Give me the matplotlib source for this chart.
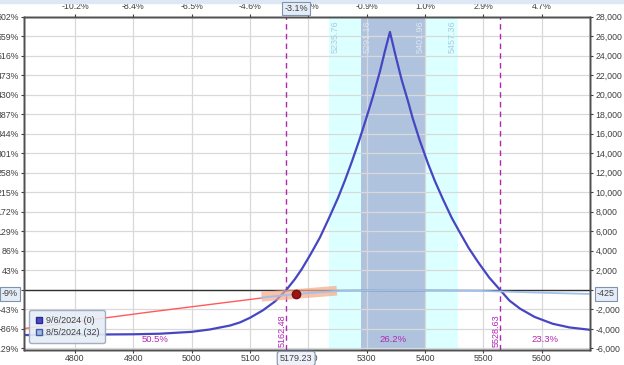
import matplotlib
matplotlib.use("Agg")
import matplotlib.pyplot as plt
import matplotlib.transforms as mtransforms
from matplotlib.lines import Line2D
from matplotlib.patches import Rectangle

plt.rcParams["font.family"] = ["Liberation Sans", "DejaVu Sans"]

# expiration curve 9/6/2024 (0)
exp_price = [4713, 4800, 4900, 4946, 5000, 5031, 5066, 5083, 5100, 5122, 5143, 5162.48,
             5177, 5189, 5204, 5220, 5235, 5251, 5263, 5275, 5287, 5300, 5311, 5323,
             5331, 5340, 5350, 5360, 5371, 5379, 5391, 5405, 5417, 5431, 5446, 5460,
             5475, 5491, 5510, 5528.63, 5545, 5563, 5588, 5619, 5648, 5683]
exp_pl = [-4640, -4600, -4560, -4500, -4310, -4070, -3660, -3340, -2870, -2110, -1190, 0,
          1090, 2140, 3650, 5370, 7290, 9430, 11240, 13190, 15260, 17700, 19850, 22420,
          24380, 26440, 23920, 21550, 19330, 17590, 15330, 12990, 11160, 9270, 7370, 5860,
          4290, 2850, 1270, 0, -1110, -1930, -2780, -3480, -3860, -4100]

# T+0 curve 8/5/2024 (32)
red_price = [4713, 4800, 4928, 5120]
red_pl = [-3970, -3290, -2280, -840]
t0_price = [5120, 5179.23, 5250, 5300, 5350, 5400, 5450, 5491, 5563, 5619, 5683]
t0_pl = [-800, -425, -120, -60, -30, -40, -80, -100, -230, -330, -425]

# delta band through current price
band_price = [5120, 5249]
band_pl = [-710, -90]
cur_price = 5179.23
cur_pl = -425

breakevens = [5162.48, 5528.63]
inner_band = [5291.16, 5401.96]
outer_band = [5235.76, 5457.36]
probs = ["50.5%", "26.2%", "23.3%"]

x_ticks = [4800, 4900, 5000, 5100, 5200, 5300, 5400, 5500, 5600]
top_labels = ["-10.2%", "-8.4%", "-6.5%", "-4.6%", "-2.7%", "-0.9%", "1.0%", "2.9%", "4.7%"]
y_ticks = list(range(-6000, 28001, 2000))
left_labels = ["-129%", "-86%", "-43%", "0%", "43%", "86%", "129%", "172%", "215%",
               "258%", "301%", "344%", "387%", "430%", "473%", "516%", "559%", "602%"]
right_labels = ["-6,000", "-4,000", "-2,000", "0", "2,000", "4,000", "6,000", "8,000",
                "10,000", "12,000", "14,000", "16,000", "18,000", "20,000", "22,000",
                "24,000", "26,000", "28,000"]
legend_labels = ["9/6/2024 (0)", "8/5/2024 (32)"]

xmin, xmax = 4712.6, 5683
ymin, ymax = -6120, 28000
txt = "#404040"
mag = "#b028b0"
fs = 6.3

fig = plt.figure(figsize=(6.24, 3.65), dpi=100)
fig.patches.append(Rectangle((0, 1 - 3 / 365), 1, 3 / 365, transform=fig.transFigure,
                             color="#dde8f4", zorder=0))
ax = fig.add_axes([24 / 624, 1 - 349.5 / 365, 566 / 624, 332.8 / 365])

ax.axvspan(outer_band[0], outer_band[1], color="#dcffff", zorder=0.2, lw=0)
ax.axvspan(inner_band[0], inner_band[1], color="#afc3de", zorder=0.3, lw=0)
ax.grid(True, color="#d9d9d9", lw=0.9)
ax.set_axisbelow(True)

ax.axhline(0, color="#303030", lw=1, zorder=2)
for be in breakevens:
    ax.axvline(be, color=mag, lw=1, ls=(0, (4, 3)), zorder=2)

ax.plot(exp_price, exp_pl, color="#4646c2", lw=1.6, zorder=3)
ax.plot(red_price, red_pl, color="#ff5a5a", lw=1, zorder=3)
ax.plot(band_price, band_pl, color="#f6a888", lw=7, alpha=0.7, solid_capstyle="butt", zorder=3)
ax.plot(t0_price, t0_pl, color="#9ec0ea", lw=1.3, zorder=3.5)
ax.plot(cur_price, cur_pl, "o", ms=6, mfc="#a01414", mec="#701010", zorder=4)

ax.set_xlim(xmin, xmax)
ax.set_ylim(ymin, ymax)

# breakeven labels
for be in breakevens:
    tr = mtransforms.offset_copy(ax.transData, fig=fig, x=-4, y=0, units="dots")
    ax.text(be, -5860, f"{be:.2f}", rotation=90, ha="center", va="bottom", color=mag,
            fontsize=6.5, transform=tr, zorder=4)

# band edge labels
for val, dx, col in [(outer_band[0], 6, "#a8cce0"), (inner_band[0], 6, "#dde6f2"),
                     (inner_band[1], -6, "#dde6f2"), (outer_band[1], -6, "#a8cce0")]:
    tr = mtransforms.offset_copy(ax.transData, fig=fig, x=dx, y=0, units="dots")
    ax.text(val, 27650, f"{val:.2f}", rotation=90, ha="center", va="top", color=col,
            fontsize=6.5, transform=tr, zorder=4)

# probability labels
edges = [xmin] + breakevens + [xmax]
for i, p in enumerate(probs):
    ax.text((edges[i] + edges[i + 1]) / 2, -5050, p, ha="center", va="center",
            color=mag, fontsize=6.8, zorder=4)

ax.set_xticks(x_ticks)
ax.set_xticklabels([str(v) for v in x_ticks])
ax.set_yticks(y_ticks)
ax.set_yticklabels(left_labels)
ax.tick_params(labelsize=fs, colors=txt, length=2.5, width=0.8, pad=1)

axr = ax.twinx()
axr.set_ylim(ymin, ymax)
axr.set_yticks(y_ticks)
axr.set_yticklabels(right_labels)
axr.tick_params(labelsize=fs, colors=txt, length=2.5, width=0.8, pad=1.5)

axt = ax.twiny()
axt.set_xlim(xmin, xmax)
axt.set_xticks(x_ticks)
axt.set_xticklabels(top_labels)
axt.tick_params(labelsize=fs, colors=txt, length=2.5, width=0.8, pad=1.5)

for a in (ax, axr, axt):
    for s in a.spines.values():
        s.set_color("#505050")
        s.set_linewidth(1)

handles = [Line2D([], [], marker="s", ls="none", mfc="#4a4ac4", mec="#2a2a90", ms=5),
           Line2D([], [], marker="s", ls="none", mfc="#9dbbe6", mec="#4a5aa0", ms=5)]
leg = ax.legend(handles, legend_labels, loc="lower left", bbox_to_anchor=(0.009, 0.02),
                fontsize=6.5, frameon=True, fancybox=True, facecolor="#e6edf6",
                edgecolor="#9aa6bc", framealpha=0.9, handletextpad=0.3, borderpad=0.6,
                labelspacing=0.4, handlelength=1, borderaxespad=0)
for t in leg.get_texts():
    t.set_color(txt)

# value boxes on the axes
bx = dict(boxstyle="square,pad=0.25", fc="#e4ecf6", ec="#7f93b0", lw=0.8)
trx = mtransforms.blended_transform_factory(ax.transData, fig.transFigure)
fig.text(cur_price, 1 - 8.7 / 365, "-3.1%", ha="center", va="center", fontsize=6.5,
         color=txt, transform=trx, bbox=bx, zorder=10)
fig.text(cur_price, 1 - 358.5 / 365, f"{cur_price:.2f}", ha="center", va="center",
         fontsize=6.5, color=txt, transform=trx, zorder=10,
         bbox=dict(boxstyle="round,pad=0.3", fc="#eef2f8", ec="#8090a8", lw=0.8))
try_ = mtransforms.blended_transform_factory(fig.transFigure, ax.transData)
fig.text(10 / 624, cur_pl, "-9%", ha="center", va="center", fontsize=6.5, color=txt,
         transform=try_, bbox=bx, zorder=10)
fig.text(606 / 624, cur_pl, "-425", ha="center", va="center", fontsize=6.5, color=txt,
         transform=try_, bbox=bx, zorder=10)

fig.savefig("out.png", dpi=100)
